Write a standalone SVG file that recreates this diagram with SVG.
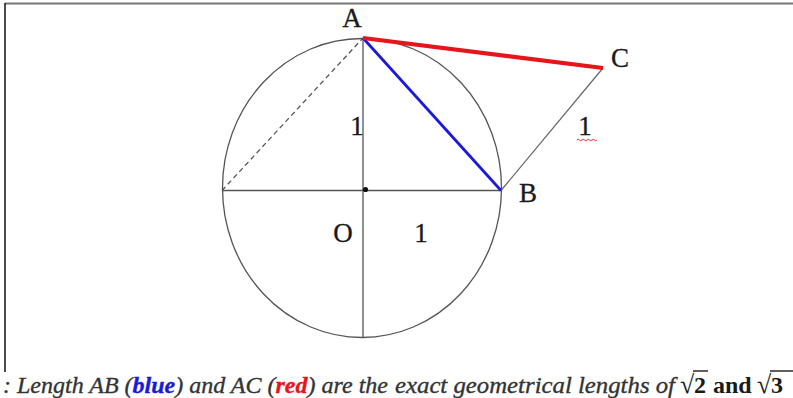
<svg xmlns="http://www.w3.org/2000/svg" width="793" height="398" viewBox="0 0 793 398">
<style>
.lbl{font-family:"Liberation Serif","Times New Roman",serif;font-size:27px;fill:#1a1a1a;stroke:#1a1a1a;stroke-width:0.3}
.cap{font-family:"Liberation Serif","Times New Roman",serif;font-size:24px;fill:#333;font-style:italic;stroke:#333;stroke-width:0.35}
.math{font-family:"Liberation Serif","Times New Roman",serif;font-size:24px;fill:#1a1a1a;font-weight:bold}
.rad{font-family:"Liberation Serif","Times New Roman",serif;font-size:26px;fill:#1a1a1a}
.thin{stroke:#555;stroke-width:1.3;fill:none}
</style>
<rect x="0" y="0" width="793" height="398" fill="#fff"/>
<g id="frame">
<line x1="5" y1="3.5" x2="793" y2="3.5" stroke="#777" stroke-width="2"/>
<line x1="5" y1="3" x2="5" y2="372" stroke="#111" stroke-width="1.5"/>
</g>
<g id="circle">
<ellipse cx="362" cy="188" rx="139.5" ry="149.5" class="thin"/>
</g>
<g id="connectors">
<line x1="363" y1="38" x2="363" y2="337.5" class="thin"/>
<line x1="222" y1="190.5" x2="501" y2="190.5" class="thin"/>
<line x1="222" y1="190.5" x2="363" y2="38" class="thin" stroke-dasharray="5,3.5"/>
<line x1="501" y1="190.5" x2="603" y2="68" stroke="#666" stroke-width="1.2"/>
<line x1="363" y1="38" x2="501" y2="190.5" stroke="#1a1adc" stroke-width="2.8"/>
<line x1="363" y1="38" x2="603" y2="68" stroke="#e8141c" stroke-width="4"/>
</g>
<g id="O">
<circle cx="365.5" cy="189.5" r="2.6" fill="#111"/>
<text class="lbl" x="343" y="242" text-anchor="middle">O</text>
</g>
<g id="A"><text class="lbl" x="352" y="27" text-anchor="middle">A</text></g>
<g id="B"><text class="lbl" x="528" y="202" text-anchor="middle">B</text></g>
<g id="C"><text class="lbl" x="620" y="67" text-anchor="middle">C</text></g>
<g id="labels">
<text class="lbl" x="357" y="135" text-anchor="middle">1</text>
<text class="lbl" x="421" y="242" text-anchor="middle">1</text>
<text class="lbl" x="585" y="135" text-anchor="middle">1</text>
<path d="M577,140 q1.25,-1.5 2.5,0 t2.5,0 t2.5,0 t2.5,0 t2.5,0 t2.5,0 t2.5,0 t2.5,0" stroke="#e8141c" stroke-width="0.9" fill="none"/>
</g>
<g id="caption">
<text class="cap" x="3" y="393">:</text>
<text class="cap" x="17" y="393" textLength="371" lengthAdjust="spacingAndGlyphs">Length AB (<tspan font-weight="bold" fill="#1a1adc" stroke="#1a1adc">blue</tspan>) and AC (<tspan font-weight="bold" fill="#e8141c" stroke="#e8141c">red</tspan>) are the</text>
<text class="cap" x="395" y="393" textLength="280" lengthAdjust="spacingAndGlyphs">exact geometrical lengths of</text>
<text class="rad" x="680" y="393">√</text>
<line x1="693" y1="371" x2="708" y2="371" stroke="#1a1a1a" stroke-width="1.4"/>
<text class="math" x="694" y="393">2</text>
<text class="math" x="713" y="393">and</text>
<text class="rad" x="757" y="393">√</text>
<line x1="770" y1="371" x2="793" y2="371" stroke="#1a1a1a" stroke-width="1.4"/>
<text class="math" x="771" y="393">3</text>
</g>
</svg>
